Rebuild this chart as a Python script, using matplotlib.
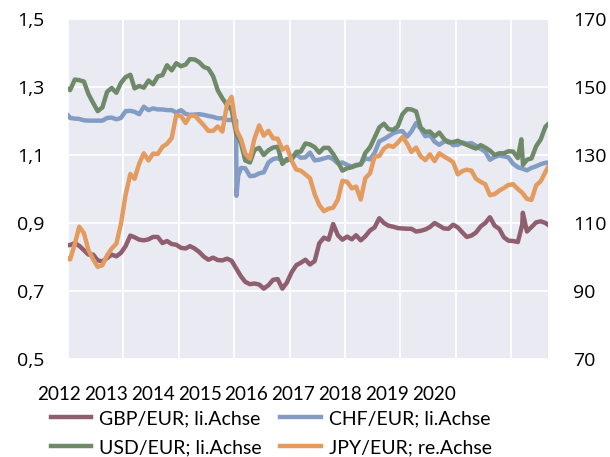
import matplotlib
matplotlib.use('Agg')
import matplotlib.pyplot as plt
import numpy as np
import pandas as pd

plt.rcParams['font.family'] = ['Lato', 'DejaVu Sans']

# monthly values Jan 2012 - Aug 2020 (euro exchange rates)
usd = [1.291, 1.322, 1.320, 1.316, 1.279, 1.253, 1.229, 1.240, 1.286, 1.297, 1.283, 1.312,
       1.329, 1.336, 1.296, 1.303, 1.298, 1.319, 1.308, 1.331, 1.335, 1.364, 1.349, 1.370,
       1.361, 1.366, 1.382, 1.381, 1.373, 1.359, 1.354, 1.332, 1.290, 1.267, 1.247, 1.233,
       1.162, 1.135, 1.084, 1.078, 1.115, 1.121, 1.100, 1.114, 1.122, 1.124, 1.074, 1.088,
       1.086, 1.109, 1.110, 1.134, 1.131, 1.123, 1.107, 1.121, 1.121, 1.103, 1.080, 1.054,
       1.061, 1.064, 1.069, 1.072, 1.106, 1.123, 1.151, 1.181, 1.192, 1.176, 1.174, 1.184,
       1.220, 1.235, 1.234, 1.228, 1.181, 1.168, 1.169, 1.155, 1.166, 1.148, 1.137, 1.138,
       1.142, 1.135, 1.130, 1.124, 1.119, 1.129, 1.122, 1.113, 1.100, 1.105, 1.105, 1.111,
       1.110, 1.091, 1.106, 1.086, 1.090, 1.126, 1.146, 1.183]

chf = [1.209, 1.207, 1.206, 1.202, 1.201, 1.201, 1.201, 1.201, 1.209, 1.210, 1.205, 1.209,
       1.229, 1.230, 1.227, 1.220, 1.242, 1.232, 1.237, 1.234, 1.234, 1.232, 1.232, 1.225,
       1.232, 1.221, 1.218, 1.219, 1.220, 1.218, 1.215, 1.212, 1.208, 1.208, 1.203, 1.203,
       np.nan, 1.062, 1.061, 1.038, 1.039, 1.046, 1.049, 1.078, 1.088, 1.091, 1.083, 1.083,
       1.094, 1.102, 1.092, 1.093, 1.107, 1.084, 1.086, 1.090, 1.094, 1.088, 1.075, 1.078,
       1.071, 1.066, 1.071, 1.073, 1.090, 1.087, 1.106, 1.140, 1.147, 1.155, 1.164, 1.169,
       1.170, 1.154, 1.169, 1.194, 1.177, 1.155, 1.159, 1.139, 1.130, 1.139, 1.141, 1.129,
       1.130, 1.137, 1.133, 1.135, 1.127, 1.118, 1.110, 1.086, 1.094, 1.099, 1.096, 1.093,
       1.074, 1.064, 1.060, 1.055, 1.062, 1.067, 1.073, 1.077]

gbp = [0.835, 0.841, 0.833, 0.820, 0.807, 0.807, 0.790, 0.787, 0.797, 0.807, 0.802, 0.812,
       0.832, 0.863, 0.858, 0.851, 0.849, 0.852, 0.859, 0.859, 0.841, 0.847, 0.838, 0.836,
       0.827, 0.825, 0.832, 0.825, 0.815, 0.801, 0.792, 0.798, 0.791, 0.790, 0.795, 0.789,
       0.766, 0.743, 0.727, 0.720, 0.722, 0.719, 0.707, 0.717, 0.733, 0.735, 0.707, 0.725,
       0.755, 0.776, 0.783, 0.792, 0.778, 0.788, 0.840, 0.857, 0.851, 0.897, 0.864, 0.851,
       0.860, 0.852, 0.864, 0.849, 0.861, 0.878, 0.887, 0.914, 0.900, 0.892, 0.889, 0.885,
       0.884, 0.883, 0.883, 0.875, 0.877, 0.881, 0.888, 0.900, 0.892, 0.884, 0.883, 0.895,
       0.887, 0.872, 0.859, 0.863, 0.872, 0.890, 0.900, 0.917, 0.892, 0.883, 0.858, 0.848,
       0.847, 0.844, 0.895, 0.875, 0.888, 0.902, 0.905, 0.900]

jpy = [99.3, 103.8, 108.9, 107.0, 102.0, 99.3, 97.1, 97.6, 100.5, 102.5, 103.9, 109.7,
       118.3, 124.4, 123.0, 127.5, 130.5, 128.4, 130.4, 130.3, 132.4, 133.3, 135.0, 141.7,
       141.5, 139.4, 141.5, 141.6, 140.2, 138.7, 137.1, 137.1, 138.4, 136.9, 145.0, 147.1,
       137.5, 134.7, 130.4, 128.9, 134.8, 138.7, 135.7, 137.1, 134.9, 134.8, 131.6, 132.4,
       128.3, 125.7, 125.4, 124.3, 123.2, 118.5, 115.3, 113.5, 114.2, 114.5, 116.9, 122.4,
       122.1, 120.2, 120.7, 116.9, 123.2, 124.6, 129.5, 129.7, 131.9, 132.8, 132.4, 133.6,
       135.3, 133.3, 130.9, 132.2, 129.6, 128.5, 130.2, 128.2, 130.5, 129.6, 128.8, 127.9,
       124.3, 125.3, 125.7, 125.4, 123.0, 122.1, 121.4, 118.2, 118.5, 119.5, 120.3, 121.2,
       121.4, 120.0, 118.9, 117.1, 116.8, 121.1, 122.3, 125.0]

# single days: first/last day and sharp moves
usd_days = {'2012-01-02': 1.294, '2020-03-09': 1.146, '2020-03-20': 1.071, '2020-08-31': 1.190}
chf_days = {'2012-01-02': 1.216, '2015-01-14': 1.201, '2015-01-16': 0.980,
            '2015-01-28': 1.040, '2020-08-31': 1.078}
gbp_days = {'2012-01-02': 0.835, '2020-03-19': 0.930, '2020-08-31': 0.895}
jpy_days = {'2012-01-02': 99.5, '2020-08-31': 126.4}

years = [2012, 2013, 2014, 2015, 2016, 2017, 2018, 2019, 2020]
left_ticks = [0.5, 0.7, 0.9, 1.1, 1.3, 1.5]
right_ticks = [70, 90, 110, 130, 150, 170]

months = pd.date_range('2012-01-01', '2020-08-01', freq='MS') + pd.Timedelta(days=14)


def series(monthly, days):
    s = pd.Series(monthly, index=months)
    d = pd.Series(list(days.values()), index=pd.to_datetime(list(days.keys())))
    return pd.concat([s, d]).sort_index().dropna()


c_gbp = '#8f5f6f'
c_chf = '#829cc4'
c_usd = '#6e8a69'
c_jpy = '#e39b60'
lw = 3.2

fig = plt.figure(figsize=(6.1, 4.57), dpi=100)
ax = fig.add_axes([68 / 610, 1 - 359 / 457, 480 / 610, 340 / 457])
ax.set_facecolor('#eaeaf2')

s = series(gbp, gbp_days)
l_gbp, = ax.plot(s.index, s.values, color=c_gbp, lw=lw, label='GBP/EUR; li.Achse')
s = series(chf, chf_days)
l_chf, = ax.plot(s.index, s.values, color=c_chf, lw=lw, label='CHF/EUR; li.Achse')
s = series(usd, usd_days)
l_usd, = ax.plot(s.index, s.values, color=c_usd, lw=lw, label='USD/EUR; li.Achse')

ax2 = ax.twinx()
s = series(jpy, jpy_days)
l_jpy, = ax2.plot(s.index, s.values, color=c_jpy, lw=lw, label='JPY/EUR; re.Achse')

ax.set_xlim(pd.Timestamp('2012-01-01'), pd.Timestamp('2020-09-01'))
ax.set_ylim(0.5, 1.5)
ax2.set_ylim(70, 170)

ax.set_xticks([pd.Timestamp(f'{y}-01-01') for y in years])
ax.tick_params(axis='x', length=0, labelbottom=False)
ax.set_yticks(left_ticks)
ax.set_yticklabels([f'{v:.1f}'.replace('.', ',') for v in left_ticks],
                   fontsize=14, family='Open Sans')
ax.tick_params(axis='y', length=0, pad=17)
ax2.set_yticks(right_ticks)
ax2.set_yticklabels([str(v) for v in right_ticks], fontsize=14, family='Open Sans')
ax2.tick_params(axis='y', length=0, pad=18)

ax.grid(True, color='white', lw=1.3)
ax.set_axisbelow(True)
ax2.grid(False)
for a in (ax, ax2):
    for sp in a.spines.values():
        sp.set_visible(False)

# year labels sit packed below the axis, not on the gridlines
label_px = np.linspace(59, 434, len(years))
for px, y in zip(label_px, years):
    ax.text((px - 68) / 480, -0.104, str(y), transform=ax.transAxes,
            ha='center', va='center', fontsize=13.6)

fig.legend(handles=[l_gbp, l_usd, l_chf, l_jpy], ncol=2, loc='upper left',
           bbox_to_anchor=(0.083, 0.103), frameon=False, fontsize=14,
           handlelength=2.1, handletextpad=0.4, columnspacing=0.95,
           borderpad=0, borderaxespad=0, labelspacing=0.62)

fig.savefig('out.png', dpi=100)
